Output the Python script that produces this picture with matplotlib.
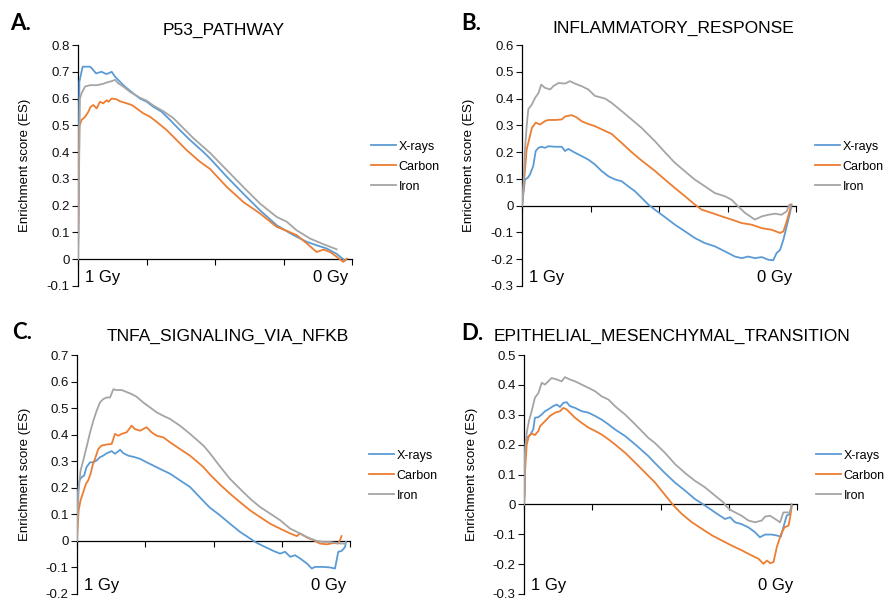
import numpy as np
import matplotlib
matplotlib.use("Agg")
import matplotlib.pyplot as plt
from matplotlib.ticker import FuncFormatter

plt.rcParams['font.family'] = ['Liberation Sans', 'DejaVu Sans']
plt.rcParams['axes.unicode_minus'] = False

# running enrichment score vs. position in ranked gene list (% of list)
series_names = ["X-rays", "Carbon", "Iron"]
series_colors = ["#5B9BD5", "#ED7D31", "#A5A5A5"]

# --- A. P53_PATHWAY ---
p53_xrays = [(0, 0), (0.5, 0.663), (1.7, 0.719), (4.4, 0.719), (5.0, 0.713), (6.6, 0.694), (8.6, 0.700),
             (10.2, 0.692), (11.1, 0.694), (12.3, 0.700), (13.5, 0.682), (15.3, 0.663), (17.2, 0.644),
             (20.2, 0.619), (22.6, 0.600), (25.1, 0.588), (27.5, 0.569), (30.5, 0.551), (33.6, 0.520),
             (37.2, 0.482), (40.9, 0.445), (45.7, 0.401), (48.2, 0.376), (54.3, 0.308), (60.3, 0.245),
             (66.4, 0.183), (72.5, 0.127), (78.6, 0.090), (83.5, 0.065), (87.1, 0.052), (90.8, 0.040),
             (94.4, 0.020), (96.8, 0.000), (97.5, -0.005)]
p53_carbon = [(0, 0), (0.5, 0.497), (1.3, 0.520), (2.6, 0.532), (3.8, 0.551), (4.6, 0.569), (5.6, 0.576),
              (6.8, 0.563), (8.0, 0.588), (9.2, 0.582), (10.5, 0.594), (11.1, 0.588), (12.3, 0.600),
              (14.1, 0.597), (15.3, 0.590), (17.8, 0.582), (19.6, 0.576), (21.4, 0.563), (23.8, 0.545),
              (26.3, 0.532), (28.7, 0.513), (32.4, 0.482), (36.0, 0.445), (39.7, 0.407), (44.5, 0.364),
              (48.2, 0.337), (54.3, 0.270), (60.3, 0.214), (66.4, 0.171), (72.5, 0.121), (76.2, 0.106),
              (79.8, 0.090), (83.5, 0.059), (87.1, 0.027), (89.6, 0.036), (92.0, 0.027), (94.4, 0.009),
              (96.8, -0.010), (98.1, 0.002)]
p53_iron = [(0, 0), (0.7, 0.600), (1.3, 0.620), (2.6, 0.645), (4.4, 0.650), (6.8, 0.650), (9.2, 0.655),
            (10.5, 0.660), (12.3, 0.665), (13.5, 0.670), (14.7, 0.657), (16.5, 0.645), (19.0, 0.625),
            (22.6, 0.603), (25.1, 0.592), (27.5, 0.574), (31.1, 0.553), (34.8, 0.527), (38.4, 0.490),
            (42.1, 0.452), (48.2, 0.397), (54.3, 0.333), (60.3, 0.270), (66.4, 0.208), (72.5, 0.158),
            (76.2, 0.140), (79.8, 0.108), (84.7, 0.077), (89.6, 0.056), (94.4, 0.037)]

# --- B. INFLAMMATORY_RESPONSE ---
inflam_xrays = [(0, 0), (0.4, 0.035), (1.1, 0.098), (2.1, 0.104), (2.9, 0.116), (4.1, 0.148), (5.0, 0.204),
                (6.0, 0.216), (7.2, 0.220), (8.4, 0.216), (9.6, 0.222), (12.1, 0.220), (14.5, 0.220),
                (15.7, 0.204), (16.9, 0.212), (19.3, 0.198), (21.8, 0.185), (24.2, 0.172), (26.6, 0.154),
                (29.1, 0.129), (31.5, 0.110), (33.9, 0.098), (36.4, 0.091), (38.8, 0.072), (41.2, 0.054),
                (43.7, 0.029), (46.1, 0.004), (48.5, -0.015), (52.2, -0.043), (55.8, -0.071), (59.5, -0.096),
                (63.1, -0.121), (66.8, -0.140), (70.4, -0.152), (74.1, -0.171), (77.7, -0.190), (80.2, -0.196),
                (82.6, -0.190), (85.0, -0.196), (87.5, -0.192), (89.9, -0.202), (91.7, -0.204), (92.9, -0.177),
                (94.2, -0.165), (95.4, -0.127), (96.6, -0.077), (97.8, -0.027), (98.4, 0.004)]
inflam_carbon = [(0, 0), (0.4, 0.047), (1.1, 0.135), (1.7, 0.210), (2.6, 0.247), (3.6, 0.290), (5.0, 0.310),
                 (6.6, 0.303), (8.4, 0.316), (9.6, 0.320), (12.1, 0.320), (14.5, 0.322), (15.7, 0.333),
                 (18.1, 0.338), (19.9, 0.330), (21.8, 0.315), (24.2, 0.305), (26.6, 0.297), (29.1, 0.285),
                 (32.7, 0.268), (36.4, 0.234), (40.0, 0.200), (43.7, 0.168), (48.5, 0.130), (52.2, 0.097),
                 (55.8, 0.066), (59.5, 0.035), (63.1, 0.004), (65.6, -0.015), (69.2, -0.027), (72.9, -0.040),
                 (76.5, -0.052), (80.2, -0.065), (83.8, -0.071), (87.5, -0.084), (91.1, -0.090), (94.2, -0.102),
                 (95.4, -0.096), (96.6, -0.059), (97.8, -0.015), (98.2, 0.004)]
inflam_iron = [(0, 0), (0.4, 0.047), (1.1, 0.210), (1.7, 0.297), (2.3, 0.360), (3.6, 0.378), (4.8, 0.403),
               (6.0, 0.420), (7.0, 0.452), (8.4, 0.440), (10.3, 0.434), (11.5, 0.447), (13.3, 0.458),
               (15.7, 0.456), (17.5, 0.465), (19.3, 0.456), (21.8, 0.446), (24.2, 0.434), (26.6, 0.410),
               (30.3, 0.400), (32.7, 0.384), (36.4, 0.353), (40.0, 0.322), (43.7, 0.290), (47.3, 0.253),
               (48.5, 0.241), (52.2, 0.199), (55.8, 0.160), (59.5, 0.128), (63.1, 0.097), (66.8, 0.072),
               (70.4, 0.047), (74.1, 0.035), (76.5, 0.022), (78.9, -0.003), (81.4, -0.027), (85.0, -0.052),
               (87.5, -0.040), (89.9, -0.034), (92.3, -0.030), (94.7, -0.034), (96.6, -0.021), (97.6, 0.004),
               (98.2, -0.009)]

# --- C. TNFA_SIGNALING_VIA_NFKB ---
tnfa_xrays = [(0, 0), (0.1, 0.165), (0.9, 0.228), (1.7, 0.240), (2.6, 0.246), (3.5, 0.278), (4.8, 0.296),
              (6.0, 0.296), (7.2, 0.303), (8.4, 0.315), (9.6, 0.321), (10.9, 0.330), (12.7, 0.338),
              (13.9, 0.328), (15.8, 0.343), (17.0, 0.330), (18.8, 0.321), (21.2, 0.315), (23.1, 0.309),
              (25.5, 0.296), (27.9, 0.284), (30.4, 0.271), (34.1, 0.253), (37.7, 0.228), (41.4, 0.203),
              (46.3, 0.150), (48.7, 0.125), (52.4, 0.096), (56.0, 0.065), (59.7, 0.034), (63.4, 0.009),
              (65.2, -0.004), (68.3, -0.020), (72.0, -0.038), (74.4, -0.048), (76.2, -0.041), (78.1, -0.060),
              (79.9, -0.054), (81.7, -0.066), (84.2, -0.085), (86.0, -0.104), (87.2, -0.098), (90.3, -0.098),
              (92.7, -0.100), (94.5, -0.104), (95.1, -0.073), (95.7, -0.041), (96.9, -0.038), (98.2, -0.023),
              (98.5, -0.004)]
tnfa_carbon = [(0, 0), (0.1, 0.028), (0.6, 0.115), (1.3, 0.153), (2.3, 0.184), (3.3, 0.215), (4.1, 0.228),
               (5.0, 0.253), (5.7, 0.284), (6.6, 0.309), (7.8, 0.346), (9.0, 0.359), (10.9, 0.363),
               (12.7, 0.365), (13.9, 0.403), (15.1, 0.396), (16.4, 0.403), (18.2, 0.409), (20.0, 0.434),
               (21.2, 0.421), (23.1, 0.415), (25.5, 0.428), (27.3, 0.409), (29.2, 0.396), (31.6, 0.390),
               (34.1, 0.371), (37.7, 0.346), (41.4, 0.321), (46.3, 0.278), (48.7, 0.250), (52.4, 0.212),
               (56.0, 0.178), (59.7, 0.146), (63.4, 0.115), (67.0, 0.090), (70.7, 0.065), (74.4, 0.046),
               (78.1, 0.028), (80.5, 0.018), (81.7, 0.028), (84.2, 0.013), (86.6, 0.003), (89.0, -0.010),
               (91.5, -0.013), (93.9, -0.008), (95.7, -0.010), (96.6, 0.009), (96.9, 0.018)]
tnfa_iron = [(0, 0), (0.1, 0.065), (0.6, 0.190), (1.3, 0.265), (2.3, 0.303), (3.5, 0.353), (4.8, 0.409),
             (6.0, 0.453), (7.2, 0.490), (8.4, 0.521), (9.6, 0.534), (10.9, 0.540), (12.1, 0.540),
             (13.3, 0.571), (14.5, 0.568), (16.4, 0.568), (17.6, 0.563), (20.0, 0.553), (21.8, 0.543),
             (24.3, 0.521), (26.7, 0.503), (29.2, 0.484), (31.6, 0.471), (34.1, 0.459), (37.7, 0.434),
             (41.4, 0.403), (46.3, 0.359), (48.7, 0.330), (52.4, 0.280), (56.0, 0.234), (59.7, 0.196),
             (63.4, 0.159), (67.0, 0.128), (70.7, 0.103), (74.4, 0.078), (78.1, 0.046), (80.5, 0.034),
             (82.9, 0.021), (85.4, 0.009), (87.8, 0.000), (90.3, -0.004), (92.7, -0.004), (95.1, -0.008),
             (96.9, -0.010), (98.2, -0.010)]

# --- D. EPITHELIAL_MESENCHYMAL_TRANSITION ---
emt_xrays = [(0, 0), (0.2, 0.060), (0.4, 0.157), (1.0, 0.223), (2.2, 0.232), (3.4, 0.251), (4.0, 0.290),
             (5.3, 0.292), (6.5, 0.301), (7.7, 0.312), (8.9, 0.318), (10.7, 0.329), (12.0, 0.334),
             (13.2, 0.326), (14.4, 0.340), (15.6, 0.342), (16.8, 0.329), (18.7, 0.323), (21.1, 0.312),
             (23.6, 0.307), (26.0, 0.296), (28.4, 0.284), (30.9, 0.268), (33.3, 0.251), (37.0, 0.229),
             (40.7, 0.201), (45.5, 0.162), (48.0, 0.138), (51.7, 0.104), (55.3, 0.073), (59.0, 0.046),
             (62.6, 0.018), (66.3, -0.004), (70.0, -0.027), (73.6, -0.049), (75.5, -0.043), (77.3, -0.060),
             (79.7, -0.066), (82.2, -0.077), (84.6, -0.093), (86.4, -0.110), (88.3, -0.101), (90.7, -0.101),
             (92.5, -0.104), (94.1, -0.108), (95.0, -0.077), (96.2, -0.038), (97.4, -0.032), (98.0, -0.004)]
emt_carbon = [(0, 0), (0.2, 0.034), (0.4, 0.112), (1.0, 0.201), (1.8, 0.229), (2.8, 0.237), (4.0, 0.232),
              (5.3, 0.246), (5.9, 0.262), (7.1, 0.273), (8.3, 0.284), (9.5, 0.296), (11.4, 0.307),
              (13.2, 0.312), (14.4, 0.323), (15.6, 0.318), (16.8, 0.307), (18.7, 0.290), (21.1, 0.273),
              (23.6, 0.257), (26.0, 0.246), (28.4, 0.234), (30.9, 0.218), (33.3, 0.201), (37.0, 0.173),
              (40.7, 0.140), (45.5, 0.096), (48.0, 0.073), (51.7, 0.031), (54.8, -0.004), (57.8, -0.032),
              (61.5, -0.060), (65.2, -0.082), (68.9, -0.104), (72.5, -0.121), (76.1, -0.138), (79.8, -0.154),
              (83.4, -0.171), (85.9, -0.182), (87.7, -0.199), (89.0, -0.188), (90.2, -0.197), (91.4, -0.193),
              (92.6, -0.143), (94.2, -0.099), (95.4, -0.077), (96.9, -0.071), (97.5, -0.043), (98.1, -0.004)]
emt_iron = [(0, 0), (0.2, 0.079), (0.4, 0.190), (1.0, 0.240), (1.8, 0.279), (2.8, 0.312), (4.0, 0.357),
            (5.3, 0.373), (6.5, 0.407), (7.7, 0.401), (8.9, 0.412), (10.1, 0.423), (12.0, 0.418),
            (13.8, 0.412), (15.0, 0.426), (16.8, 0.418), (18.7, 0.412), (21.1, 0.401), (23.6, 0.390),
            (26.0, 0.379), (28.4, 0.362), (30.9, 0.351), (33.3, 0.329), (37.0, 0.301), (40.7, 0.268),
            (45.5, 0.223), (48.0, 0.205), (51.7, 0.172), (55.3, 0.135), (59.0, 0.105), (62.6, 0.079),
            (66.3, 0.057), (70.0, 0.029), (73.0, 0.007), (74.2, -0.008), (76.1, -0.021), (79.7, -0.038),
            (82.2, -0.054), (84.6, -0.060), (87.1, -0.054), (88.3, -0.041), (90.1, -0.038), (92.0, -0.049),
            (93.8, -0.060), (95.0, -0.027), (96.2, -0.027), (97.4, -0.027), (98.0, 0.001)]

panel_letters = ["A.", "B.", "C.", "D."]
panel_titles = ["P53_PATHWAY", "INFLAMMATORY_RESPONSE", "TNFA_SIGNALING_VIA_NFKB",
                "EPITHELIAL_MESENCHYMAL_TRANSITION"]
panel_series = [(p53_xrays, p53_carbon, p53_iron),
                (inflam_xrays, inflam_carbon, inflam_iron),
                (tnfa_xrays, tnfa_carbon, tnfa_iron),
                (emt_xrays, emt_carbon, emt_iron)]
panel_ylims = [(-0.1, 0.8), (-0.3, 0.6), (-0.2, 0.7), (-0.3, 0.5)]

# layout in pixels of the 888x601 canvas
W, H = 888, 601
ax_boxes = [(78, 45, 274, 241), (522, 45, 274, 241), (77, 355, 273, 239), (524, 355, 273, 239)]
title_pos = [(224, 30), (673, 28), (228, 336), (672, 336)]
letter_pos = [(10, 24), (461, 24), (12, 333), (461, 334)]

fig = plt.figure(figsize=(W / 100, H / 100), dpi=100)

for i in range(4):
    left, top, w, h = ax_boxes[i]
    ax = fig.add_axes([left / W, 1 - (top + h) / H, w / W, h / H])

    handles = []
    for data, name, color in zip(panel_series[i], series_names, series_colors):
        arr = np.array(data)
        ln, = ax.plot(arr[:, 0], arr[:, 1], color=color, lw=1.3, label=name, zorder=3)
        handles.append(ln)

    lo, hi = panel_ylims[i]
    ax.set_xlim(0, 100)
    ax.set_ylim(lo, hi)
    ax.set_yticks(np.round(np.arange(lo, hi + 0.001, 0.1), 1))
    ax.yaxis.set_major_formatter(FuncFormatter(lambda v, p: f"{v:g}"))
    ax.set_xticks([0, 25, 50, 75, 100])
    ax.set_xticklabels([])

    for s in ["top", "right"]:
        ax.spines[s].set_visible(False)
    ax.spines["bottom"].set_position(("data", 0))
    ax.spines["left"].set_linewidth(0.9)
    ax.spines["bottom"].set_linewidth(0.9)
    ax.tick_params(axis="y", direction="out", length=4, width=0.8, pad=2, labelsize=9.5, colors="#111111")
    ax.tick_params(axis="x", direction="out", length=4, width=0.8)

    ax.set_ylabel("Enrichment score (ES)", fontsize=9.5)
    ax.yaxis.set_label_coords(-0.17, 0.5)

    ax.text(0.027, 0.035, "1 Gy", transform=ax.transAxes, fontsize=12, ha="left", va="center")
    ax.text(0.988, 0.035, "0 Gy", transform=ax.transAxes, fontsize=12, ha="right", va="center")

    ax.legend(handles=handles, loc="center left", bbox_to_anchor=(1.07, 0.495), frameon=False,
              fontsize=9, handlelength=2.0, handletextpad=0.2, labelspacing=0.65,
              borderaxespad=0, borderpad=0)

    tx, ty = title_pos[i]
    fig.text(tx / W, 1 - ty / H, panel_titles[i], fontsize=12.5, ha="center", va="center")
    lx, ly = letter_pos[i]
    fig.text(lx / W, 1 - ly / H, panel_letters[i], fontsize=16, fontweight="bold",
             family=["Lato", "DejaVu Sans"], ha="left", va="center")

fig.savefig("out.png", dpi=100)
